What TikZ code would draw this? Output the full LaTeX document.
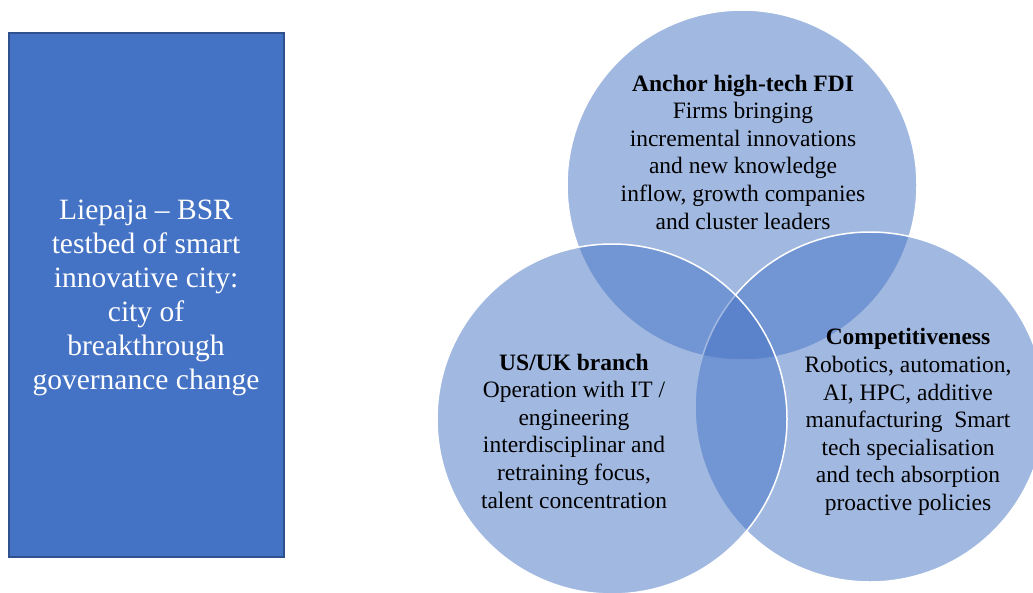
\documentclass[tikz,border=0pt]{standalone}
\usepackage{fontspec}
\setmainfont{Liberation Serif}
\definecolor{accent}{HTML}{4472C4}
\definecolor{accentdark}{HTML}{2F528F}
\begin{document}
\begin{tikzpicture}[x=1pt,y=-1pt,
  venn/.style={circle, minimum size=350pt, inner sep=0pt, fill=accent, fill opacity=0.5, draw=white, draw opacity=1, line width=1.5pt},
  vtext/.style={align=center, text=black, text opacity=1, inner sep=0pt, font=\fontsize{23.5}{27.6}\selectfont},
  boxstyle/.style={draw=accentdark, fill=accent, line width=1.5pt, minimum width=275pt, minimum height=524pt, inner sep=0pt},
  boxtext/.style={align=center, text=white, inner sep=0pt, font=\fontsize{29.5}{34}\selectfont}]
\useasboundingbox (0,0) rectangle (1033,592);
\node[boxstyle] (box) at (146.5,295) {};
\node[boxtext] (boxlabel) at (146,298) {Liepaja -- BSR\\testbed of smart\\innovative city:\\city of\\breakthrough\\governance change};
\node[venn] (top) at (742,185) {};
\node[venn] (right) at (870,407) {};
\node[venn] (left) at (612,419) {};
\node[vtext] (toplabel) at (743,152) {\textbf{Anchor high-tech FDI}\\Firms bringing\\incremental innovations\\and new knowledge\\inflow, growth companies\\and cluster leaders};
\node[vtext] (leftlabel) at (574,431) {\textbf{US/UK branch}\\Operation with IT /\\engineering\\interdisciplinar and\\retraining focus,\\talent concentration};
\node[vtext] (rightlabel) at (908,422) {\textbf{Competitiveness}\\Robotics, automation,\\AI, HPC, additive\\manufacturing\ \ Smart\\tech specialisation\\and tech absorption\\proactive policies};
\end{tikzpicture}
\end{document}
